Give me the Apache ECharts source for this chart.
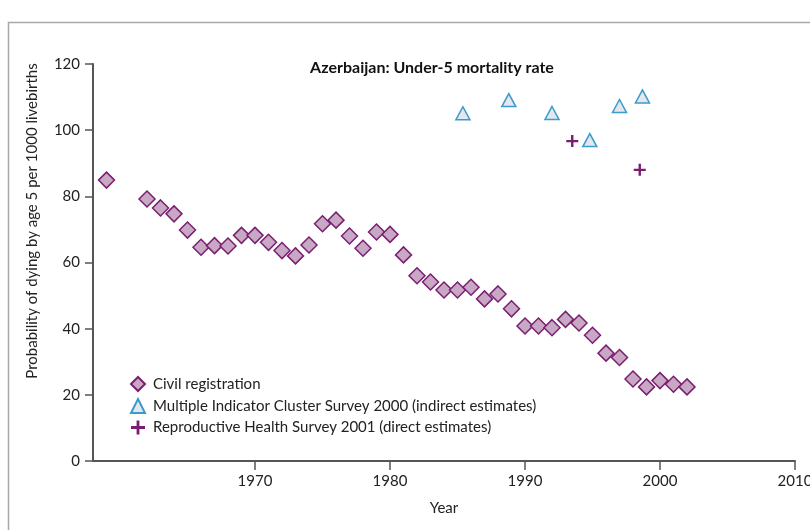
<!DOCTYPE html>
<html>
<head>
<meta charset="utf-8">
<script src="https://cdn.jsdelivr.net/npm/echarts@6/dist/echarts.min.js"></script>
<style>
html,body{margin:0;padding:0;background:#fff;}
#chart{width:810px;height:530px;}
</style>
</head>
<body>
<div id="chart"></div>
<script>
// Civil registration
const civilYears = [1959,1962,1963,1964,1965,1966,1967,1968,1969,1970,1971,1972,1973,1974,1975,1976,1977,1978,1979,1980,1981,1982,1983,1984,1985,1986,1987,1988,1989,1990,1991,1992,1993,1994,1995,1996,1997,1998,1999,2000,2001,2002];
const civilValues = [84.9,79.2,76.5,74.7,69.8,64.6,65.1,65.0,68.2,68.2,66.1,63.6,62.0,65.3,71.7,72.8,68.0,64.3,69.2,68.5,62.3,56.0,54.1,51.7,51.7,52.5,49.0,50.5,46.0,40.8,40.8,40.3,42.8,41.7,38.0,32.6,31.3,24.8,22.4,24.3,23.2,22.4];
// MICS 2000 (indirect)
const micsYears = [1985.4,1988.8,1992.0,1994.8,1997.0,1998.7];
const micsValues = [105.1,109.1,105.2,97.0,107.3,110.2];
// RHS 2001 (direct)
const rhsYears = [1993.5,1998.5];
const rhsValues = [96.7,88.0];

const xTicks = [1970,1980,1990,2000,2010];
const yTicks = [0,20,40,60,80,100,120];

const titleText = 'Azerbaijan: Under-5 mortality rate';
const yName = 'Probability of dying by age 5 per 1000 livebirths';
const xName = 'Year';
const names = ['Civil registration','Multiple Indicator Cluster Survey 2000 (indirect estimates)','Reproductive Health Survey 2001 (direct estimates)'];

const FONT = 'Lato';
const pair = (xs, ys) => xs.map((x,i)=>[x, ys[i]]);

const chart = echarts.init(document.getElementById('chart'), null, {renderer:'canvas'});
chart.setOption({
  backgroundColor:'#fff',
  animation:false,
  textStyle:{fontFamily:FONT},
  title:{
    text:titleText, left:432, top:60, textAlign:'center', padding:0,
    textStyle:{fontFamily:FONT, fontSize:16, fontWeight:'bold', color:'#111'}
  },
  graphic:[
    {type:'rect', shape:{x:8.5,y:22.5,width:900,height:600}, style:{fill:'none', stroke:'#a8a8a8', lineWidth:1.5}, silent:true},
    {type:'text', x:32, y:221, rotation:Math.PI/2,
     style:{text:yName, fontFamily:FONT, fontSize:15, fill:'#222', align:'center', verticalAlign:'middle'}}
  ],
  legend:{
    orient:'vertical', left:130, top:376, padding:0, itemGap:6, itemWidth:14, itemHeight:14,
    textStyle:{fontFamily:FONT, fontSize:15, color:'#222', padding:[0,0,0,3]},
    data:names
  },
  grid:{left:93, right:15, top:64, bottom:69, containLabel:false, outerBoundsMode:'none'},
  xAxis:{
    type:'value', min:1958, max:2010,
    name:xName, nameLocation:'middle', nameGap:40,
    nameTextStyle:{fontFamily:FONT, fontSize:15, color:'#222'},
    axisLine:{show:true, lineStyle:{color:'#555', width:2}},
    axisTick:{show:true, length:9, customValues:xTicks, lineStyle:{color:'#555', width:1.5}},
    axisLabel:{customValues:xTicks, formatter:v=>String(v), fontFamily:FONT, fontSize:15, color:'#222', margin:13},
    splitLine:{show:false}
  },
  yAxis:{
    type:'value', min:0, max:120, interval:20,
    axisLine:{show:true, lineStyle:{color:'#555', width:2}},
    axisTick:{show:true, length:8, lineStyle:{color:'#555', width:1.5}},
    axisLabel:{fontFamily:FONT, fontSize:15, color:'#222', margin:13},
    splitLine:{show:false}
  },
  series:[
    {name:names[0], type:'scatter', data:pair(civilYears, civilValues),
     symbol:'diamond', symbolSize:16,
     itemStyle:{color:'#c9a8c6', borderColor:'#7a1f70', borderWidth:1.5, opacity:1}},
    {name:names[1], type:'scatter', data:pair(micsYears, micsValues),
     symbol:'triangle', symbolSize:[14,13],
     itemStyle:{color:'#e6e6ee', borderColor:'#3a9ccb', borderWidth:1.5, opacity:1}},
    {name:names[2], type:'scatter', data:pair(rhsYears, rhsValues),
     symbol:'path://M4,0 H6 V4 H10 V6 H6 V10 H4 V6 H0 V4 H4 Z', symbolSize:12,
     itemStyle:{color:'#7a1f70', opacity:1}}
  ]
});
</script>
</body>
</html>
